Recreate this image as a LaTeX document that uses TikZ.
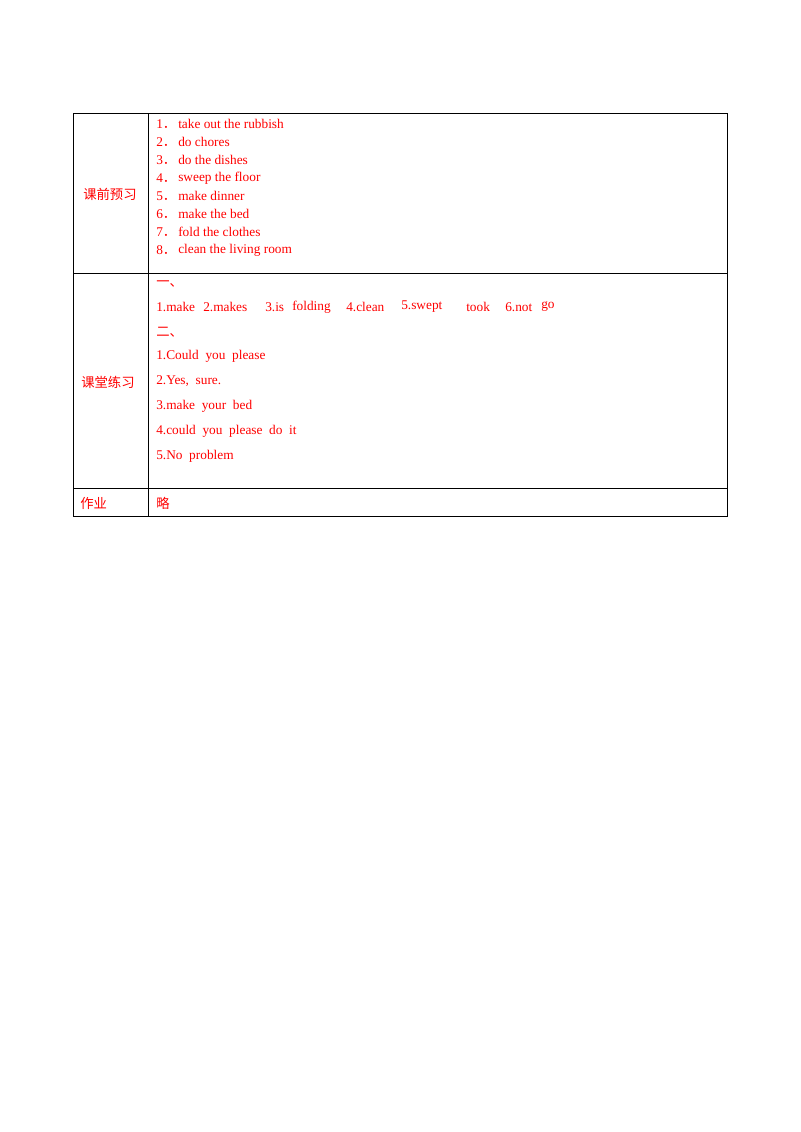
\documentclass[tikz,border=0pt]{standalone}
\usepackage{fontspec}
\setmainfont{Liberation Serif}
\newfontfamily\cjk{Noto Sans CJK SC}
\definecolor{tred}{RGB}{255,0,0}
\begin{document}
\begin{tikzpicture}[x=0.75pt,y=-0.75pt,
  t/.style={anchor=west,inner sep=0pt,text=tred,font=\fontsize{10pt}{12pt}\selectfont},
  c/.style={anchor=west,inner sep=0pt,text=tred,font=\fontsize{10pt}{12pt}\selectfont\cjk}]
\useasboundingbox (0,0) rectangle (800,1132);
\draw[line width=0.6pt] (73,113) rectangle (727,516);
\draw[line width=0.6pt] (148,113) -- (148,516);
\draw[line width=0.6pt] (73,273) -- (727,273);
\draw[line width=0.6pt] (73,488) -- (727,488);
\node[c] (l1) at (83,194) {课前预习};
\node[c] (l2) at (81,382) {课堂练习};
\node[c] (l3) at (80,503) {作业};
\node[c] (h) at (156,503) {略};
\foreach \i/\s in {1/take out the rubbish,2/do chores,3/do the dishes,4/sweep the floor,5/make dinner,6/make the bed,7/fold the clothes,8/clean the living room}{
  \node[t] (n\i) at (156,{124+18*(\i-1)}) {\i{\cjk ．}};
  \node[t] (s\i) at (178,{124+18*(\i-1)}) {\s};
}
\node[c] (y1) at (156,284) {一、};
\foreach \x/\w [count=\k] in {156/1.make,203/2.makes,265/3.is,292/folding,346/4.clean,401/5.swept,466/took,505/6.not,541/go}{
  \node[t] (w\k) at (\x,307) {\w};
}
\node[c] (y2) at (156,332) {二、};
\node[t] (a1) at (156,356) {1.Could\ \ you\ \ please};
\node[t] (a2) at (156,381) {2.Yes,\ \ sure.};
\node[t] (a3) at (156,406) {3.make\ \ your\ \ bed};
\node[t] (a4) at (156,431) {4.could\ \ you\ \ please\ \ do\ \ it};
\node[t] (a5) at (156,456) {5.No\ \ problem};
\end{tikzpicture}
\end{document}
